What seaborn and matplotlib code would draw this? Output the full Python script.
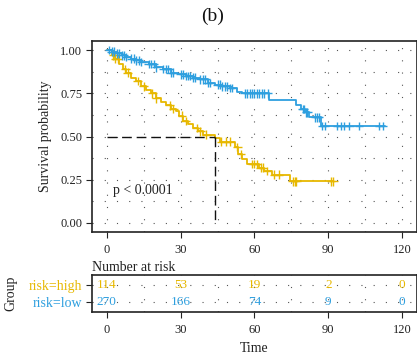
import numpy as np
import pandas as pd
import matplotlib
matplotlib.use("Agg")
import matplotlib.pyplot as plt
import seaborn as sns

# ---------------- data ----------------
groups = ["risk=high", "risk=low"]
colors = {"risk=high": "#E7B800", "risk=low": "#2E9FDF"}

high_t = [0, 2, 3.5, 5, 6.5, 8, 10, 12, 14, 16, 18, 20, 22, 24, 26, 28, 29.5,
          31, 33, 35, 37, 39, 44, 46, 52, 53.5, 55, 57, 62, 64, 67, 74.5, 92]
high_s = [1.0, 0.97, 0.95, 0.92, 0.89, 0.87, 0.84, 0.82, 0.79, 0.77, 0.75, 0.72,
          0.70, 0.68, 0.66, 0.645, 0.62, 0.59, 0.57, 0.55, 0.53, 0.51, 0.49, 0.47,
          0.44, 0.40, 0.37, 0.34, 0.32, 0.30, 0.28, 0.24, 0.24]

low_t = [0, 2, 4, 6, 8, 10, 12, 14, 17, 20, 23, 26, 29, 32, 35, 38, 41, 44, 47,
         50, 53, 55, 66, 77, 79, 80.5, 82, 87, 113]
low_s = [1.0, 0.99, 0.98, 0.97, 0.96, 0.95, 0.94, 0.93, 0.92, 0.90, 0.89, 0.87,
         0.86, 0.85, 0.84, 0.83, 0.81, 0.80, 0.79, 0.78, 0.76, 0.75, 0.71, 0.68,
         0.66, 0.64, 0.61, 0.56, 0.56]

high_cens = [2.5, 3.5, 4.5, 7.5, 8.5, 12.5, 15, 18.5, 20, 25.5, 27, 30.5, 32,
             36.5, 38, 40.5, 46.5, 48.5, 50, 53, 54.5, 59, 60, 61, 62.5, 63.5,
             65, 68, 70, 75.5, 76.5, 77, 91, 92]
low_cens = [1, 2, 3, 4, 5, 6, 7, 8, 10, 11, 12, 13, 14, 17, 18, 19, 20, 23, 24,
            25, 26, 27, 30, 31, 32, 33, 34, 35, 36, 38, 39, 40, 41, 42, 45, 46,
            47, 48, 49, 50, 51, 56, 57, 58, 59, 60, 61, 62, 63, 64, 65.5, 79.5,
            80, 81, 81.5, 84.5, 85.5, 86, 87.5, 88.5, 93.5, 95, 96.5, 98.5,
            102.5, 110.5, 112]

risk_times = [0, 30, 60, 90, 120]
risk_high = [114, 53, 19, 2, 0]
risk_low = [270, 166, 74, 9, 0]

median_high = 44
pval_text = "p < 0.0001"
title_text = "(b)"

# ---------------- build tables ----------------
curves = pd.concat([
    pd.DataFrame({"time": high_t, "surv": high_s, "group": "risk=high"}),
    pd.DataFrame({"time": low_t, "surv": low_s, "group": "risk=low"}),
], ignore_index=True)


def step_value(ts, ss, t):
    i = np.searchsorted(ts, t, side="right") - 1
    return ss[i]


cens = pd.concat([
    pd.DataFrame({"time": high_cens,
                  "surv": [step_value(high_t, high_s, t) for t in high_cens],
                  "group": "risk=high"}),
    pd.DataFrame({"time": low_cens,
                  "surv": [step_value(low_t, low_s, t) for t in low_cens],
                  "group": "risk=low"}),
], ignore_index=True)

# ---------------- figure ----------------
sns.set_theme(style="white")
plt.rcParams["font.family"] = ["Liberation Serif", "DejaVu Serif"]
plt.rcParams["axes.edgecolor"] = "#222222"

fig = plt.figure(figsize=(4.17, 3.64), dpi=100)
ax = fig.add_axes([0.2206, 0.3637, 0.7794, 0.5226])
tab = fig.add_axes([0.2206, 0.1429, 0.7794, 0.1016])

grid_kw = dict(color="#555555", lw=0.8, ls=(0, (1, 10)))

# main plot
ax.set_xlim(-6, 126)
ax.set_ylim(-0.05, 1.05)
ax.set_xticks(risk_times)
ax.set_xticks(np.arange(0, 121, 15), minor=True)
ax.set_yticks([0, 0.25, 0.5, 0.75, 1.0])
ax.set_yticks(np.arange(0, 1.01, 0.125), minor=True)
ax.set_yticklabels(["0.00", "0.25", "0.50", "0.75", "1.00"])
ax.grid(which="both", **grid_kw)
ax.set_axisbelow(True)

sns.lineplot(data=curves, x="time", y="surv", hue="group", palette=colors,
             drawstyle="steps-post", estimator=None, lw=1.3, legend=False, ax=ax)
sns.scatterplot(data=cens, x="time", y="surv", hue="group", palette=colors,
                marker="+", s=38, linewidth=1.0, legend=False, ax=ax, zorder=3)

ax.plot([0, median_high], [0.5, 0.5], color="#111111", lw=1.0, ls=(0, (7, 3.5)))
ax.plot([median_high, median_high], [0.5, 0], color="#111111", lw=1.0, ls=(0, (7, 3.5)))

ax.text(2.5, 0.185, pval_text, fontsize=10, va="center", ha="left", color="#222222")

ax.set_xlabel("")
ax.set_ylabel("Survival probability", fontsize=10, color="#222222", labelpad=6)
ax.tick_params(axis="both", which="major", length=4, width=0.8, color="#222222",
               labelsize=9, labelcolor="#222222", direction="out",
               bottom=True, left=True, pad=3)
ax.tick_params(axis="x", which="major", pad=5)
ax.tick_params(which="minor", length=0)
for sp in ax.spines.values():
    sp.set_linewidth(1.2)

fig.text(0.51, 0.956, title_text, fontsize=14, ha="center", va="center", color="#111111")

# risk table
tab.set_xlim(-6, 126)
tab.set_ylim(0.4, 2.6)
tab.set_xticks(risk_times)
tab.set_xticks(np.arange(0, 121, 15), minor=True)
tab.set_yticks([1, 2])
tab.set_yticklabels(["risk=low", "risk=high"])
tab.grid(which="both", **grid_kw)
for lbl, g in zip(tab.get_yticklabels(), ["risk=low", "risk=high"]):
    lbl.set_color(colors[g])
for t, n in zip(risk_times, risk_high):
    tab.text(t, 2, str(n), color=colors["risk=high"], ha="center", va="center", fontsize=9.5)
for t, n in zip(risk_times, risk_low):
    tab.text(t, 1, str(n), color=colors["risk=low"], ha="center", va="center", fontsize=9.5)
tab.set_title("Number at risk", loc="left", fontsize=10, color="#222222", pad=3)
tab.set_xlabel("Time", fontsize=10, color="#222222", labelpad=4)
tab.set_ylabel("Group", fontsize=10, color="#222222", labelpad=8)
tab.tick_params(axis="both", which="major", length=4, width=0.8, color="#222222",
                labelsize=9, direction="out", bottom=True, left=True, pad=3)
tab.tick_params(axis="x", which="major", pad=5, labelcolor="#222222")
tab.tick_params(axis="y", labelsize=10)
tab.tick_params(which="minor", length=0)
for sp in tab.spines.values():
    sp.set_linewidth(1.2)

fig.savefig("out.png", dpi=100)
